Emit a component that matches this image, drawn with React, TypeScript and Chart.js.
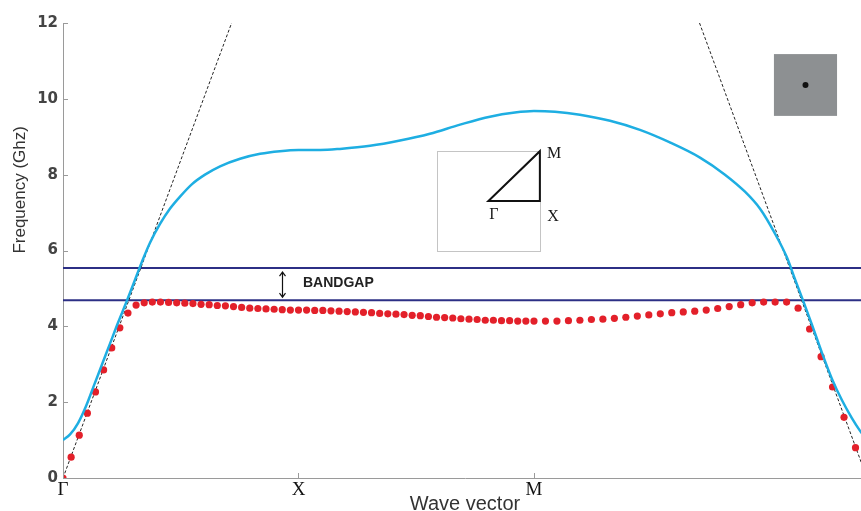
import React, { useEffect, useRef } from "react";
import { Chart, registerables } from "chart.js";

Chart.register(...registerables);

const SQRT2 = Math.SQRT2;
const STEPS = 29;

// high-symmetry points along the path Γ → X → M → Γ
const tickKeys = [0, 1, 2, 2 + SQRT2];
const tickLabels = ["Γ", "X", "M", "Γ"];
const yTickValues = [0, 2, 4, 6, 8, 10, 12];
const yTitle = "Frequency (Ghz)";
const xTitle = "Wave vector";

// upper band (blue line)
const blueK = [
  0, 0.03, 0.064, 0.098, 0.132, 0.166, 0.2, 0.234, 0.268, 0.301, 0.335, 0.369,
  0.412, 0.454, 0.497, 0.548, 0.603, 0.667, 0.752, 0.837, 0.921, 1.0, 1.093,
  1.176, 1.304, 1.431, 1.558, 1.686, 1.813, 1.919, 2.0, 2.089, 2.195, 2.323,
  2.45, 2.577, 2.705, 2.811, 2.896, 2.96, 3.023, 3.074, 3.108, 3.142, 3.18,
  3.223, 3.265, 3.308, 3.35, 3.384, 3.414,
];
const blueF = [
  1.0, 1.15, 1.45, 1.9, 2.45, 3.0, 3.55, 4.1, 4.62, 5.15, 5.7, 6.2, 6.7, 7.1,
  7.42, 7.75, 8.0, 8.22, 8.42, 8.55, 8.62, 8.65, 8.65, 8.68, 8.76, 8.9, 9.08,
  9.32, 9.53, 9.64, 9.68, 9.66, 9.58, 9.42, 9.18, 8.85, 8.45, 8.0, 7.55, 7.1,
  6.45, 5.82, 5.25, 4.69, 4.05, 3.3, 2.62, 2.05, 1.58, 1.25, 1.0,
];

// lower band (red dots), sampled uniformly on each segment
const redGX = [
  0, 0.55, 1.13, 1.71, 2.27, 2.85, 3.43, 3.96, 4.35, 4.56, 4.62, 4.64, 4.64,
  4.63, 4.62, 4.61, 4.6, 4.58, 4.57, 4.55, 4.54, 4.52, 4.5, 4.48, 4.47, 4.46,
  4.45, 4.44, 4.43, 4.43,
];
const redXM = [
  4.43, 4.42, 4.42, 4.41, 4.4, 4.39, 4.38, 4.37, 4.36, 4.34, 4.33, 4.32, 4.31,
  4.29, 4.28, 4.26, 4.24, 4.23, 4.22, 4.2, 4.19, 4.18, 4.16, 4.16, 4.15, 4.15,
  4.14, 4.14, 4.14,
];
const redMG = [
  4.14, 4.14, 4.15, 4.16, 4.18, 4.19, 4.21, 4.24, 4.27, 4.3, 4.33, 4.36, 4.38,
  4.4, 4.43, 4.47, 4.52, 4.57, 4.62, 4.64, 4.64, 4.64, 4.48, 3.93, 3.2, 2.4,
  1.6, 0.8, 0,
];

// light lines (dashed)
const lightLK = [0, 0.716];
const lightLF = [0, 12];
const lightRK = [2.703, 2 + SQRT2];
const lightRF = [12, 0];

// band gap edges
const gapTop = 5.54;
const gapBottom = 4.69;

const pts = (ks: number[], fs: number[]) => ks.map((k, i) => ({ x: k, y: fs[i] }));

const annotations = {
  id: "annotations",
  afterDatasetsDraw(chart: any) {
    const { ctx, chartArea } = chart;
    const xs = chart.scales.x;
    const ys = chart.scales.y;
    const X = (v: number) => xs.getPixelForValue(v);
    const Y = (v: number) => ys.getPixelForValue(v);
    ctx.save();

    // inward tick marks
    ctx.strokeStyle = "#9a9a9a";
    ctx.lineWidth = 1;
    yTickValues.forEach((v) => {
      const py = Math.round(Y(v)) + 0.5;
      ctx.beginPath();
      ctx.moveTo(chartArea.left, py);
      ctx.lineTo(chartArea.left + 5, py);
      ctx.stroke();
    });
    tickKeys.forEach((v) => {
      const px = Math.round(X(v)) + 0.5;
      ctx.beginPath();
      ctx.moveTo(px, chartArea.bottom);
      ctx.lineTo(px, chartArea.bottom - 5);
      ctx.stroke();
    });

    // y axis title (placed beside the upper half of the axis)
    ctx.save();
    ctx.translate(20, Y(7.6));
    ctx.rotate(-Math.PI / 2);
    ctx.fillStyle = "#333";
    ctx.font = '17px "Liberation Sans"';
    ctx.textAlign = "center";
    ctx.textBaseline = "middle";
    ctx.fillText(yTitle, 0, 0);
    ctx.restore();

    // Brillouin zone inset
    const l = X(1.588), r = X(2.025), t = Y(8.62), b = Y(5.99);
    ctx.strokeStyle = "#c4c4c4";
    ctx.lineWidth = 1;
    ctx.strokeRect(Math.round(l) + 0.5, Math.round(t) + 0.5, Math.round(r - l), Math.round(b - t));
    const cx = (l + r) / 2, cy = (t + b) / 2;
    ctx.strokeStyle = "#111";
    ctx.lineWidth = 2;
    ctx.beginPath();
    ctx.moveTo(cx, cy);
    ctx.lineTo(r, cy);
    ctx.lineTo(r, t);
    ctx.closePath();
    ctx.stroke();
    ctx.fillStyle = "#1a1a1a";
    ctx.font = '16px "Liberation Serif"';
    ctx.textAlign = "center";
    ctx.textBaseline = "middle";
    ctx.fillText("M", X(2.085), Y(8.54));
    ctx.fillText("Γ", X(1.83), Y(6.95));
    ctx.fillText("X", X(2.081), Y(6.9));

    // unit cell picture
    const gl = X(3.019), gr = X(3.287), gt = Y(11.18), gb = Y(9.55);
    ctx.fillStyle = "#8d9092";
    ctx.fillRect(gl, gt, gr - gl, gb - gt);
    ctx.fillStyle = "#111";
    ctx.beginPath();
    ctx.arc((gl + gr) / 2, (gt + gb) / 2, 3, 0, Math.PI * 2);
    ctx.fill();

    // band gap label and arrow
    ctx.fillStyle = "#222";
    ctx.font = 'bold 14px "Liberation Sans"';
    ctx.textAlign = "left";
    ctx.fillText("BANDGAP", X(1.019), Y(5.14));
    const ax = Math.round(X(0.93)) + 0.5;
    const a1 = Y(5.43), a2 = Y(4.77);
    ctx.strokeStyle = "#111";
    ctx.lineWidth = 1.2;
    ctx.beginPath();
    ctx.moveTo(ax, a1);
    ctx.lineTo(ax, a2);
    ctx.moveTo(ax - 3, a1 + 4);
    ctx.lineTo(ax, a1);
    ctx.lineTo(ax + 3, a1 + 4);
    ctx.moveTo(ax - 3, a2 - 4);
    ctx.lineTo(ax, a2);
    ctx.lineTo(ax + 3, a2 - 4);
    ctx.stroke();

    ctx.restore();
  },
};

export default function App() {
  const ref = useRef<HTMLCanvasElement | null>(null);

  useEffect(() => {
    if (!ref.current) return;
    const redPts = [
      ...redGX.map((f, i) => ({ x: i / STEPS, y: f })),
      ...redXM.map((f, i) => ({ x: 1 + (i + 1) / STEPS, y: f })),
      ...redMG.map((f, i) => ({ x: 2 + (SQRT2 * (i + 1)) / STEPS, y: f })),
    ];
    const kMax = 2 + SQRT2;
    const chart = new Chart(ref.current, {
      type: "scatter",
      data: {
        datasets: [
          {
            label: "upper band",
            data: pts(blueK, blueF),
            showLine: true,
            borderColor: "#1eaee2",
            borderWidth: 2.5,
            pointRadius: 0,
            cubicInterpolationMode: "monotone",
          } as any,
          {
            label: "lower band",
            data: redPts,
            showLine: false,
            pointRadius: 3.6,
            pointBackgroundColor: "#e3202a",
            pointBorderWidth: 0,
          },
          {
            label: "light line",
            data: pts(lightLK, lightLF),
            showLine: true,
            borderColor: "#222",
            borderWidth: 1,
            borderDash: [3, 2],
            pointRadius: 0,
          },
          {
            label: "light line 2",
            data: pts(lightRK, lightRF),
            showLine: true,
            borderColor: "#222",
            borderWidth: 1,
            borderDash: [3, 2],
            pointRadius: 0,
          },
          {
            label: "gap top",
            data: [{ x: 0, y: gapTop }, { x: kMax, y: gapTop }],
            showLine: true,
            borderColor: "#2c2f85",
            borderWidth: 2,
            pointRadius: 0,
          },
          {
            label: "gap bottom",
            data: [{ x: 0, y: gapBottom }, { x: kMax, y: gapBottom }],
            showLine: true,
            borderColor: "#2c2f85",
            borderWidth: 2,
            pointRadius: 0,
          },
        ],
      },
      options: {
        animation: false,
        responsive: false,
        layout: { padding: { left: 0, right: 13, top: 23, bottom: 0 } },
        plugins: { legend: { display: false }, tooltip: { enabled: false } },
        scales: {
          x: {
            type: "linear",
            min: 0,
            max: kMax,
            afterBuildTicks: (s: any) => {
              s.ticks = tickKeys.map((v) => ({ value: v }));
            },
            afterFit: (s: any) => {
              s.height = 33;
            },
            ticks: {
              autoSkip: false,
              maxRotation: 0,
              padding: 3,
              color: "#111",
              font: { family: "Liberation Serif", size: 19, lineHeight: 1 },
              callback: (v: any) => {
                const i = tickKeys.findIndex((k) => Math.abs(k - Number(v)) < 1e-6);
                return i >= 0 ? tickLabels[i] : "";
              },
            },
            grid: { display: false, drawTicks: false },
            border: { display: true, color: "#9a9a9a", width: 1 },
            title: {
              display: true,
              text: xTitle,
              color: "#333",
              padding: 0,
              font: { family: "Liberation Sans", size: 20, lineHeight: 0.7 },
            },
          },
          y: {
            min: 0,
            max: 12,
            afterBuildTicks: (s: any) => {
              s.ticks = yTickValues.map((v) => ({ value: v }));
            },
            afterFit: (s: any) => {
              s.width = 63;
            },
            ticks: {
              padding: 5,
              color: "#444",
              font: { family: "DejaVu Sans", size: 15, weight: "bold" },
            },
            grid: { display: false, drawTicks: false },
            border: { display: true, color: "#9a9a9a", width: 1 },
            title: { display: false },
          },
        },
      } as any,
      plugins: [annotations],
    });
    return () => chart.destroy();
  }, []);

  return (
    <div
      style={{
        position: "absolute",
        left: 0,
        top: 0,
        width: 861,
        height: 511,
        overflow: "hidden",
        background: "#fff",
      }}
    >
      <canvas ref={ref} width={880} height={511} style={{ display: "block" }} />
    </div>
  );
}
